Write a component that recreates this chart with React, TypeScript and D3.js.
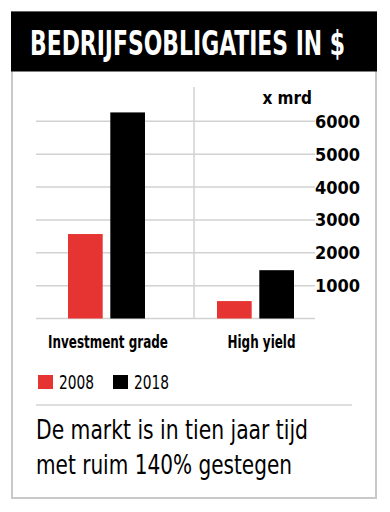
import * as d3 from 'd3'

const W = 390, H = 512
const categories = ['Investment grade', 'High yield']
const years = ['2008', '2018']
const values2008 = [2570, 530]
const values2018 = [6270, 1470]
const yTicks = [1000, 2000, 3000, 4000, 5000, 6000]
const COLORS = ['#e53431', '#000000']

const COND = '"Liberation Sans Narrow", "DejaVu Sans Condensed", "Roboto Condensed", Roboto, sans-serif'

export default function App() {
  const y = d3.scaleLinear().domain([0, 6000]).range([318.5, 121.3])
  const x0 = d3.scaleBand<string>().domain(categories).range([32, 330])
  const bw = x0.bandwidth()
  const x1 = d3.scaleBand<string>().domain(years)
    .range([bw / 2 - 38.5, bw / 2 + 38.5]).paddingInner(0.18)
  const series = [values2008, values2018]

  return (
    <svg width={W} height={H} style={{ position: 'absolute', left: 0, top: 0, display: 'block' }}>
      <rect x={0} y={0} width={W} height={H} fill="#fff" />
      {/* frame */}
      <rect x={12} y={12} width={364} height={486} fill="#fff" stroke="#c9c9c9" strokeWidth={2} />
      <rect x={11} y={11.5} width={366} height={60} fill="#000" />
      <text transform="translate(30,55) scale(1,1.22)" fill="#fff" fontFamily={COND} fontWeight={700}
        fontSize={27} fontStretch="condensed" textLength={315} lengthAdjust="spacingAndGlyphs">
        BEDRIJFSOBLIGATIES IN $
      </text>

      {/* grid */}
      {[0, ...yTicks].map(t => (
        <line key={t} x1={36} x2={315} y1={y(t)} y2={y(t)} stroke="#d2d2d2" strokeWidth={1.5} />
      ))}
      <line x1={194} x2={194} y1={87} y2={y(0)} stroke="#d2d2d2" strokeWidth={1.5} />
      {yTicks.map(t => (
        <text key={t} x={360} y={y(t) + 6.5} textAnchor="end" fontFamily={COND} fontWeight={700}
          fontSize={18} fontStretch="condensed" fill="#000">{t}</text>
      ))}
      <text x={312} y={104} textAnchor="end" fontFamily={COND} fontWeight={700} fontSize={17}
        fontStretch="condensed" fill="#000">x mrd</text>

      {/* bars */}
      {categories.map((c, i) => (
        <g key={c} transform={`translate(${x0(c)},0)`}>
          {years.map((yr, j) => (
            <rect key={yr} x={x1(yr)} width={x1.bandwidth()} y={y(series[j][i])}
              height={y(0) - y(series[j][i])} fill={COLORS[j]} />
          ))}
          <text x={bw / 2 + (i === 1 ? 6 : 1.5)} y={348} textAnchor="middle" fontFamily={COND}
            fontWeight={700} fontSize={17} fontStretch="condensed" fill="#000"
            textLength={i === 0 ? 120 : 68} lengthAdjust="spacingAndGlyphs">{c}</text>
        </g>
      ))}

      {/* legend */}
      {years.map((yr, j) => (
        <g key={yr} transform={`translate(${38 + j * 75},375)`}>
          <rect x={0} y={0} width={15} height={14} fill={COLORS[j]} />
          <text x={21} y={14} fontFamily={COND} fontSize={20} fontStretch="condensed" fill="#000"
            textLength={35} lengthAdjust="spacingAndGlyphs">{yr}</text>
        </g>
      ))}
      <line x1={36} x2={352} y1={405} y2={405} stroke="#bdbdbd" strokeWidth={1} />

      <text x={36} y={439} fontFamily={COND} fontSize={27} fontStretch="condensed" fill="#000"
        textLength={272} lengthAdjust="spacingAndGlyphs">De markt is in tien jaar tijd</text>
      <text x={36} y={474} fontFamily={COND} fontSize={27} fontStretch="condensed" fill="#000"
        textLength={256} lengthAdjust="spacingAndGlyphs">met ruim 140% gestegen</text>
    </svg>
  )
}
